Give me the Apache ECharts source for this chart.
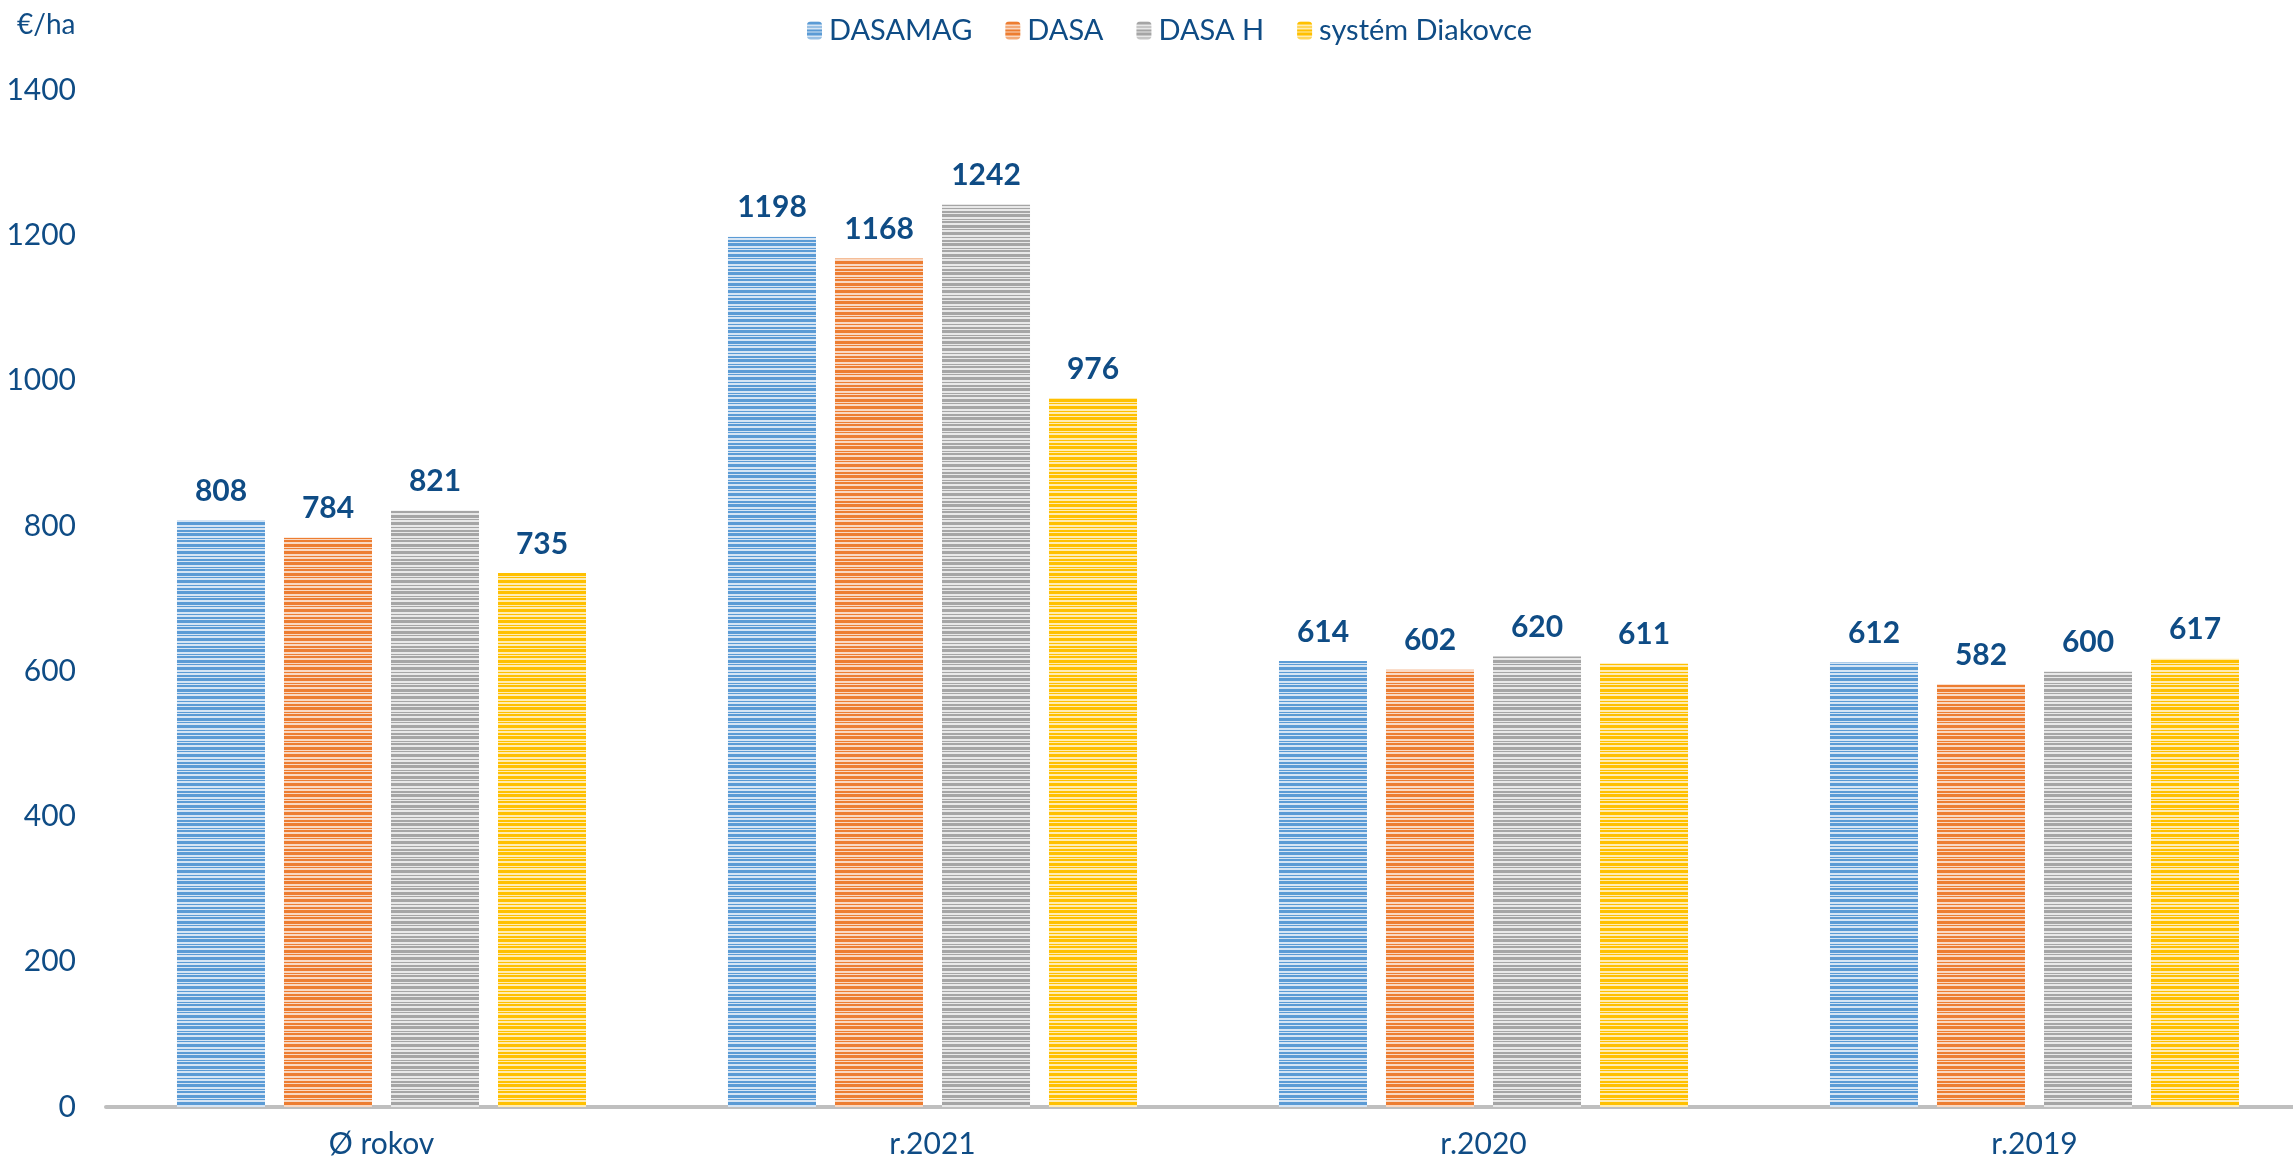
<!DOCTYPE html>
<html>
<head>
<meta charset="utf-8">
<script src="https://cdn.jsdelivr.net/npm/echarts@6/dist/echarts.min.js"></script>
<style>
html,body{margin:0;padding:0;background:#fff;}
#chart{width:2293px;height:1165px;}
</style>
</head>
<body>
<div id="chart"></div>
<script>
const categories = ['Ø rokov', 'r.2021', 'r.2020', 'r.2019'];
const seriesNames = ['DASAMAG', 'DASA', 'DASA H', 'systém Diakovce'];
const dasamag = [808, 1198, 614, 612];
const dasa = [784, 1168, 602, 582];
const dasaH = [821, 1242, 620, 600];
const diakovce = [735, 976, 611, 617];
const yTicks = [0, 200, 400, 600, 800, 1000, 1200, 1400];

const baseColors = ['#5B9BD5', '#ED7D31', '#A5A5A5', '#FFC000'];
const lightColors = ['#d6e5f4', '#f9d8c2', '#e8e8e8', '#ffecb3'];
const TXT = '#0F4C85';

function stripePattern(c, l) {
  // alternating band heights (px): colour, light, colour, light ...
  const bands = [3, 2, 1, 2, 2, 1, 3, 2, 1, 1, 2, 2, 3, 1, 1, 2];
  const total = bands.reduce((a, b) => a + b, 0);
  const cv = document.createElement('canvas');
  cv.width = 8; cv.height = total;
  const ctx = cv.getContext('2d');
  let y = 0;
  bands.forEach((h, i) => { ctx.fillStyle = i % 2 === 0 ? c : l; ctx.fillRect(0, y, 8, h); y += h; });
  return { image: cv, repeat: 'repeat' };
}

const values = [dasamag, dasa, dasaH, diakovce];
const chart = echarts.init(document.getElementById('chart'));
chart.setOption({
  animation: false,
  backgroundColor: '#fff',
  title: { text: '€/ha', left: 12, top: 6, textStyle: { fontFamily: 'Lato', fontSize: 28, fontWeight: 'normal', color: TXT } },
  legend: {
    left: 802, top: 11, itemWidth: 15, itemHeight: 18, itemGap: 33,
    textStyle: { fontFamily: 'Lato', fontSize: 29, color: TXT, padding: [0, 0, 0, 2] },
    data: seriesNames
  },
  grid: { left: 106, width: 2204, top: 90, bottom: 58, containLabel: false, outerBoundsMode: 'none' },
  xAxis: {
    type: 'category', data: categories,
    axisLine: { lineStyle: { color: '#BFBFBF', width: 4 } },
    axisTick: { show: false },
    axisLabel: { fontFamily: 'Lato', fontSize: 30, color: TXT, margin: 22 }
  },
  yAxis: {
    type: 'value', min: yTicks[0], max: yTicks[yTicks.length - 1], interval: 200,
    axisLine: { show: false }, axisTick: { show: false }, splitLine: { show: false },
    axisLabel: { fontFamily: 'Lato', fontSize: 30, color: TXT, margin: 30, formatter: v => String(v) }
  },
  series: seriesNames.map((n, i) => ({
    name: n, type: 'bar', data: values[i], barWidth: 88, barGap: '21.6%',
    itemStyle: { color: stripePattern(baseColors[i], lightColors[i]) },
    label: { show: true, position: 'top', distance: 14, fontFamily: 'Lato', fontSize: 30, fontWeight: 'bold', color: TXT }
  }))
});
</script>
</body>
</html>
